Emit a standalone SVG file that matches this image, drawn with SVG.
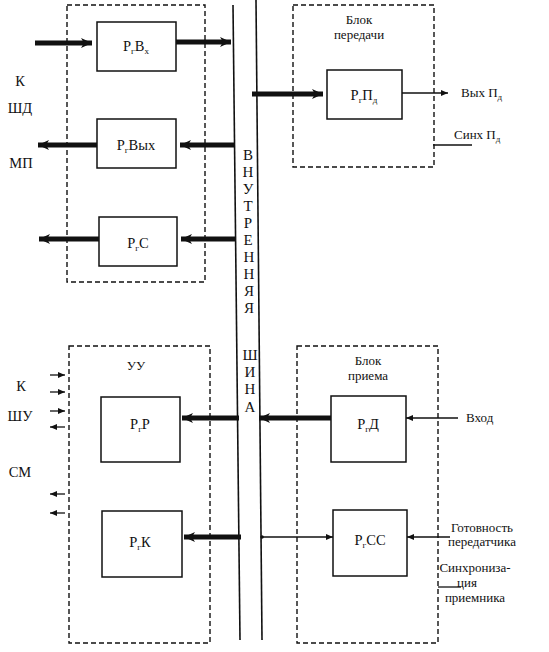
<svg xmlns="http://www.w3.org/2000/svg" width="549" height="652" viewBox="0 0 549 652">
<style>
text{font-family:"Liberation Serif","Times New Roman",serif;fill:#111}
.lbl{font-size:14.5px;text-anchor:middle}
.sm{font-size:13px}
.sub{font-size:9px}
.box{fill:#fff;stroke:#111;stroke-width:1.5}
.dash{fill:none;stroke:#111;stroke-width:1.4;stroke-dasharray:5 3}
.thick{stroke:#111;stroke-width:5;fill:none}
.thin{stroke:#111;stroke-width:1.3;fill:none}
.bus{stroke:#111;stroke-width:1.6}
.bt{font-size:15px;text-anchor:middle}
</style>
<defs>
<marker id="ah" markerUnits="userSpaceOnUse" markerWidth="12" markerHeight="12" refX="11" refY="6" orient="auto">
<path d="M0,1 L11,6 L0,11 L3,6 Z" fill="#111"/>
</marker>
<marker id="as" markerUnits="userSpaceOnUse" markerWidth="8" markerHeight="8" refX="7" refY="4" orient="auto">
<path d="M0,1 L7,4 L0,7 Z" fill="#111"/>
</marker>
</defs>
<rect width="549" height="652" fill="#fff"/>

<g id="bus">
<line class="bus" x1="233" y1="5" x2="240" y2="640"/>
<line class="bus" x1="256" y1="0" x2="262" y2="640"/>
<text class="bt" x="248" y="160">В</text>
<text class="bt" x="248" y="177">Н</text>
<text class="bt" x="248" y="194">У</text>
<text class="bt" x="248" y="211">Т</text>
<text class="bt" x="248" y="228">Р</text>
<text class="bt" x="248" y="245">Е</text>
<text class="bt" x="249" y="262">Н</text>
<text class="bt" x="249" y="279">Н</text>
<text class="bt" x="249" y="296">Я</text>
<text class="bt" x="249" y="313">Я</text>
<text class="bt" x="250" y="360">Ш</text>
<text class="bt" x="250" y="377">И</text>
<text class="bt" x="250" y="394">Н</text>
<text class="bt" x="250" y="412">А</text>
</g>

<g id="block-top-left">
<rect class="dash" x="67" y="5" width="138" height="277"/>
</g>

<g id="labels-left">
<text class="lbl" x="20" y="86">К</text>
<text class="lbl" x="20" y="113">ШД</text>
<text class="lbl" x="21" y="168">МП</text>
<text class="lbl" x="21" y="391">К</text>
<text class="lbl" x="20" y="421">ШУ</text>
<text class="lbl" x="20" y="477">СМ</text>
</g>

<g id="node-rgvx">
<rect class="box" x="97" y="22" width="79" height="49"/>
<text class="lbl" x="136" y="51">Р<tspan class="sub" dy="3">г</tspan><tspan dy="-3">В</tspan><tspan class="sub" dy="3">х</tspan></text>
</g>
<g id="node-rgvyx">
<rect class="box" x="97" y="119" width="79" height="49"/>
<text class="lbl" x="136" y="150">Р<tspan class="sub" dy="3">г</tspan><tspan dy="-3">Вых</tspan></text>
</g>
<g id="node-rgc">
<rect class="box" x="99" y="217" width="78" height="49"/>
<text class="lbl" x="138" y="248">Р<tspan class="sub" dy="3">г</tspan><tspan dy="-3">С</tspan></text>
</g>

<g id="block-transmit">
<rect class="dash" x="293" y="5" width="141" height="162"/>
<text class="lbl sm" x="359" y="24">Блок</text>
<text class="lbl sm" x="359" y="39">передачи</text>
</g>
<g id="node-rgpd">
<rect class="box" x="327" y="70" width="75" height="49"/>
<text class="lbl" x="364" y="100">Р<tspan class="sub" dy="3">г</tspan><tspan dy="-3">П</tspan><tspan class="sub" dy="3">д</tspan></text>
</g>
<g id="labels-transmit">
<text class="sm" x="461" y="97">Вых П<tspan class="sub" dy="3">д</tspan></text>
<text class="sm" x="454" y="139">Синх П<tspan class="sub" dy="3">д</tspan></text>
</g>

<g id="block-uu">
<rect class="dash" x="69" y="346" width="141" height="297"/>
<text class="lbl sm" x="136" y="370">УУ</text>
</g>
<g id="node-rgr">
<rect class="box" x="101" y="397" width="79" height="65"/>
<text class="lbl" x="140" y="429">Р<tspan class="sub" dy="3">г</tspan><tspan dy="-3">Р</tspan></text>
</g>
<g id="node-rgk">
<rect class="box" x="102" y="511" width="80" height="66"/>
<text class="lbl" x="140" y="547">Р<tspan class="sub" dy="3">г</tspan><tspan dy="-3">К</tspan></text>
</g>

<g id="block-receive">
<rect class="dash" x="297" y="346" width="141" height="297"/>
<text class="lbl sm" x="368" y="365">Блок</text>
<text class="lbl sm" x="368" y="380">приема</text>
</g>
<g id="node-rgd">
<rect class="box" x="331" y="396" width="75" height="66"/>
<text class="lbl" x="368" y="429">Р<tspan class="sub" dy="3">г</tspan><tspan dy="-3">Д</tspan></text>
</g>
<g id="node-rgss">
<rect class="box" x="333" y="510" width="74" height="66"/>
<text class="lbl" x="370" y="545">Р<tspan class="sub" dy="3">г</tspan><tspan dy="-3">СС</tspan></text>
</g>
<g id="labels-receive">
<text class="sm" x="466" y="422">Вход</text>
<text class="lbl sm" x="482" y="532">Готовность</text>
<text class="lbl sm" x="482" y="546">передатчика</text>
<text class="lbl sm" x="475" y="572">Синхрониза-</text>
<text class="lbl sm" x="467" y="587">ция</text>
<text class="lbl sm" x="475" y="602">приемника</text>
</g>

<g id="connectors">
<line class="thick" x1="35" y1="43" x2="92" y2="43" marker-end="url(#ah)"/>
<line class="thick" x1="176" y1="42" x2="231" y2="42" marker-end="url(#ah)"/>
<line class="thick" x1="234" y1="145" x2="180" y2="145" marker-end="url(#ah)"/>
<line class="thick" x1="97" y1="145" x2="38" y2="145" marker-end="url(#ah)"/>
<line class="thick" x1="235" y1="239" x2="181" y2="239" marker-end="url(#ah)"/>
<line class="thick" x1="99" y1="239" x2="39" y2="239" marker-end="url(#ah)"/>
<line class="thick" x1="252" y1="94" x2="323" y2="94" marker-end="url(#ah)"/>
<line class="thin" x1="402" y1="93" x2="448" y2="93" marker-end="url(#as)"/>
<line class="thin" x1="433" y1="145" x2="472" y2="145"/>
<line class="thick" x1="239" y1="418" x2="182" y2="418" marker-end="url(#ah)"/>
<line class="thick" x1="331" y1="418" x2="259" y2="418" marker-end="url(#ah)"/>
<line class="thin" x1="458" y1="418" x2="406" y2="418" marker-end="url(#as)"/>
<line class="thick" x1="241" y1="537" x2="184" y2="537" marker-end="url(#ah)"/>
<circle cx="262" cy="537" r="1.8" fill="#111"/>
<line class="thin" x1="262" y1="537" x2="333" y2="537" marker-end="url(#as)"/>
<line class="thin" x1="450" y1="537" x2="407" y2="537" marker-end="url(#as)"/>
<line class="thin" x1="438" y1="587" x2="461" y2="587"/>
<line class="thin" x1="50" y1="375" x2="65" y2="375" marker-end="url(#as)"/>
<line class="thin" x1="50" y1="392" x2="65" y2="392" marker-end="url(#as)"/>
<line class="thin" x1="50" y1="411" x2="65" y2="411" marker-end="url(#as)"/>
<line class="thin" x1="65" y1="427" x2="50" y2="427" marker-end="url(#as)"/>
<line class="thin" x1="65" y1="494" x2="50" y2="494" marker-end="url(#as)"/>
<line class="thin" x1="65" y1="513" x2="50" y2="513" marker-end="url(#as)"/>
</g>
</svg>
